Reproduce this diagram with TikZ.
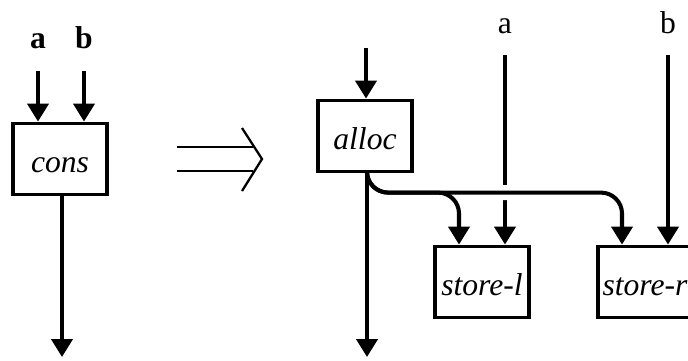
\documentclass[tikz,border=0pt]{standalone}
\usepackage{fontspec}
\setmainfont{Liberation Serif}
\usetikzlibrary{arrows.meta,backgrounds}
\tikzset{
	blk/.style={draw, fill=white, line width=2.2pt, minimum width=1.88cm, minimum height=1.42cm, inner sep=0pt, text height=0.52cm, text depth=0pt, font=\fontsize{18}{20}\selectfont\itshape},
	lbl/.style={inner sep=0pt, anchor=base, font=\fontsize{18}{20}\selectfont},
	wire/.style={line width=2.3pt, -{Triangle[width=0.42cm,length=0.36cm]}},
	hop/.style={preaction={draw, -, white, line width=0.3cm}}
}

\begin{document}
\begin{tikzpicture}[x=0.02cm, y=-0.02cm]
	%%%%% START %%%%%
	\useasboundingbox (0,0) rectangle (688,360);
	
	%% left: cons
	\node[lbl, font=\fontsize{18}{20}\selectfont\bfseries] (ca) at (38,48) {a};
	\node[lbl, font=\fontsize{18}{20}\selectfont\bfseries] (cb) at (84,48) {b};
	\node[blk] (cons) at (60,159) {cons};
	\coordinate (consout) at (62,357);
	
	\draw[wire] ([yshift=-0.46cm]ca.base) -- (ca.base |- cons.north);
	\draw[wire] ([yshift=-0.46cm]cb.base) -- (cb.base |- cons.north);
	\draw[wire] (consout |- cons.south) -- (consout);
	
	%% rewrite arrow
	\draw[line width=1.3pt] (177,147) -- (253,147);
	\draw[line width=1.3pt] (177,171) -- (253,171);
	\draw[line width=1.3pt] (242,128) -- (262,159) -- (242,191);
	
	%% right: alloc + stores
	\node[blk] (alloc) at (365,136) {alloc};
	\node[blk] (storel) at (482,282) {store-l};
	\node[blk] (storer) at (645,282) {store-r};
	\node[lbl] (sa) at (505,33) {a};
	\node[lbl] (sb) at (668,33) {b};
	\coordinate (allocin) at (366,48);
	\coordinate (allocout) at (367,357);
	
	\begin{scope}[on background layer]
		\draw[wire] ([yshift=-0.44cm]sa.base) -- (sa.base |- storel.north);
		\draw[wire] ([yshift=-0.44cm]sb.base) -- (sb.base |- storer.north);
		\draw[wire, hop, rounded corners=0.42cm] (allocout |- alloc.south) |- ([xshift=-0.46cm, yshift=1.04cm]storer.north) -- ([xshift=-0.46cm]storer.north);
		\draw[wire, rounded corners=0.42cm] (allocout |- alloc.south) |- ([xshift=-0.46cm, yshift=1.04cm]storel.north) -- ([xshift=-0.46cm]storel.north);
		\draw[wire] (allocin) -- (allocin |- alloc.north);
		\draw[wire] (allocout |- alloc.south) -- (allocout);
	\end{scope}
	
	%%%%% END %%%%%
\end{tikzpicture}
\end{document}
